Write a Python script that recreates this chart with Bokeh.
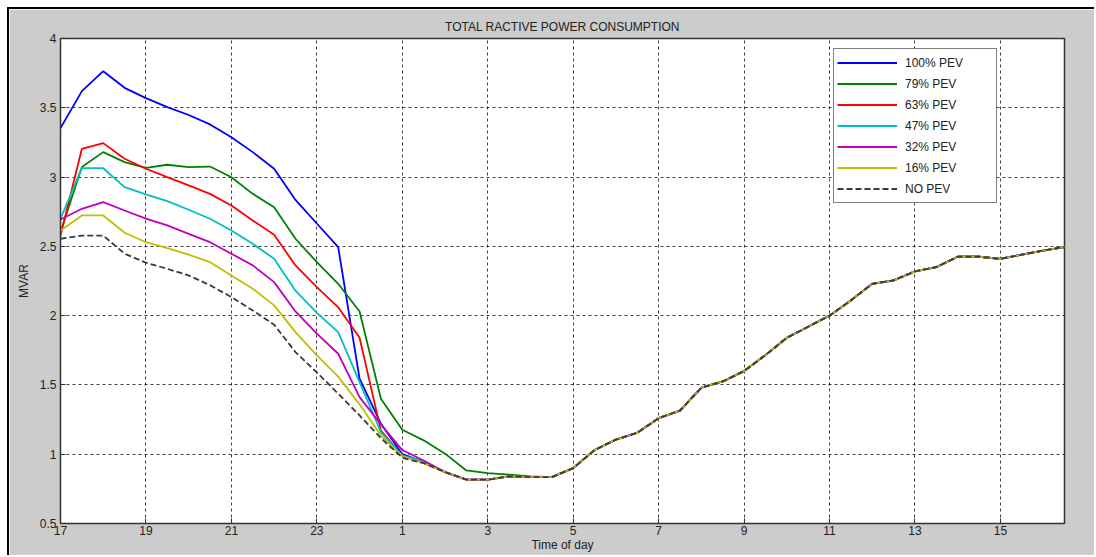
from bokeh.plotting import figure
from bokeh.models import Range1d, FixedTicker, Legend, LegendItem
from bokeh.embed import file_html
from bokeh.resources import INLINE

# time of day in hours, 17:00 on day 1 through 16:30 on day 2 (24 = midnight)
hours = [17.0, 17.5, 18.0, 18.5, 19.0, 19.5, 20.0, 20.5, 21.0, 21.5, 22.0, 22.5,
         23.0, 23.5, 24.0, 24.5, 25.0, 25.5, 26.0, 26.5, 27.0, 27.5, 28.0, 28.5,
         29.0, 29.5, 30.0, 30.5, 31.0, 31.5, 32.0, 32.5, 33.0, 33.5, 34.0, 34.5,
         35.0, 35.5, 36.0, 36.5, 37.0, 37.5, 38.0, 38.5, 39.0, 39.5, 40.0, 40.5]

pev_100 = [3.353, 3.62, 3.764, 3.644, 3.57, 3.505, 3.448, 3.38, 3.288, 3.18, 3.06, 2.835,
           2.665, 2.494, 1.545, 1.22, 1.0, 0.945, 0.871, 0.816, 0.816, 0.84, 0.835, 0.835,
           0.9, 1.03, 1.105, 1.155, 1.26, 1.315, 1.48, 1.525, 1.6, 1.715, 1.84, 1.92,
           2.0, 2.11, 2.23, 2.255, 2.32, 2.35, 2.425, 2.425, 2.41, 2.44, 2.47, 2.495]
pev_79 = [2.602, 3.072, 3.18, 3.108, 3.067, 3.089, 3.072, 3.076, 2.999, 2.879, 2.783, 2.555,
          2.386, 2.23, 2.03, 1.40, 1.177, 1.10, 1.004, 0.883, 0.864, 0.852, 0.84, 0.835,
          0.9, 1.03, 1.105, 1.155, 1.26, 1.315, 1.48, 1.525, 1.6, 1.715, 1.84, 1.92,
          2.0, 2.11, 2.23, 2.255, 2.32, 2.35, 2.425, 2.425, 2.41, 2.44, 2.47, 2.495]
pev_63 = [2.578, 3.204, 3.245, 3.132, 3.06, 2.999, 2.94, 2.879, 2.795, 2.687, 2.584, 2.362,
          2.206, 2.06, 1.84, 1.17, 0.99, 0.945, 0.871, 0.816, 0.816, 0.84, 0.835, 0.835,
          0.9, 1.03, 1.105, 1.155, 1.26, 1.315, 1.48, 1.525, 1.6, 1.715, 1.84, 1.92,
          2.0, 2.11, 2.23, 2.255, 2.32, 2.35, 2.425, 2.425, 2.41, 2.44, 2.47, 2.495]
pev_47 = [2.699, 3.064, 3.064, 2.927, 2.875, 2.826, 2.764, 2.699, 2.615, 2.519, 2.41, 2.18,
          2.02, 1.881, 1.52, 1.16, 0.99, 0.95, 0.871, 0.816, 0.816, 0.84, 0.835, 0.835,
          0.9, 1.03, 1.105, 1.155, 1.26, 1.315, 1.48, 1.525, 1.6, 1.715, 1.84, 1.92,
          2.0, 2.11, 2.23, 2.255, 2.32, 2.35, 2.425, 2.425, 2.41, 2.44, 2.47, 2.495]
pev_32 = [2.694, 2.771, 2.819, 2.759, 2.70, 2.651, 2.59, 2.53, 2.447, 2.363, 2.242, 2.03,
          1.87, 1.725, 1.412, 1.215, 1.03, 0.955, 0.871, 0.816, 0.816, 0.84, 0.835, 0.835,
          0.9, 1.03, 1.105, 1.155, 1.26, 1.315, 1.48, 1.525, 1.6, 1.715, 1.84, 1.92,
          2.0, 2.11, 2.23, 2.255, 2.32, 2.35, 2.425, 2.425, 2.41, 2.44, 2.47, 2.495]
pev_16 = [2.615, 2.723, 2.723, 2.598, 2.53, 2.487, 2.44, 2.386, 2.29, 2.194, 2.074, 1.881,
          1.713, 1.56, 1.36, 1.136, 0.985, 0.935, 0.871, 0.816, 0.816, 0.84, 0.835, 0.835,
          0.9, 1.03, 1.105, 1.155, 1.26, 1.315, 1.48, 1.525, 1.6, 1.715, 1.84, 1.92,
          2.0, 2.11, 2.23, 2.255, 2.32, 2.35, 2.425, 2.425, 2.41, 2.44, 2.47, 2.495]
no_pev = [2.555, 2.578, 2.578, 2.447, 2.382, 2.338, 2.29, 2.22, 2.134, 2.037, 1.935, 1.737,
          1.59, 1.437, 1.28, 1.116, 0.975, 0.935, 0.871, 0.816, 0.816, 0.84, 0.835, 0.835,
          0.9, 1.03, 1.105, 1.155, 1.26, 1.315, 1.48, 1.525, 1.6, 1.715, 1.84, 1.92,
          2.0, 2.11, 2.23, 2.255, 2.32, 2.35, 2.425, 2.425, 2.41, 2.44, 2.47, 2.495]

series_names = ["100% PEV", "79% PEV", "63% PEV", "47% PEV", "32% PEV", "16% PEV", "NO PEV"]
series_colors = ["#0000ff", "#008000", "#ff0000", "#00bfbf", "#bf00bf", "#bfbf00", "#3a3a3a"]
series_values = [pev_100, pev_79, pev_63, pev_47, pev_32, pev_16, no_pev]

x_ticks = [17, 19, 21, 23, 25, 27, 29, 31, 33, 35, 37, 39]
x_tick_labels = ["17", "19", "21", "23", "1", "3", "5", "7", "9", "11", "13", "15"]
y_ticks = [0.5, 1.0, 1.5, 2.0, 2.5, 3.0, 3.5, 4.0]
y_tick_labels = ["0.5", "1", "1.5", "2", "2.5", "3", "3.5", "4"]

FONT = "Liberation Sans"

p = figure(width=1087, height=548, output_backend="svg", toolbar_location=None,
           x_range=Range1d(17, 40.5), y_range=Range1d(0.5, 4.0),
           min_border_left=51, min_border_right=32, min_border_top=29, min_border_bottom=34,
           styles={"margin-left": "7px", "margin-top": "7px",
                   "border-left": "2px solid black", "border-top": "2px solid black"})

p.border_fill_color = "#cccccc"
p.background_fill_color = "white"
p.outline_line_color = "#333333"
p.outline_line_width = 1.5

p.title.text = "TOTAL RACTIVE POWER CONSUMPTION"
p.title.align = "center"
p.title.text_font = FONT
p.title.text_font_size = "12px"
p.title.text_font_style = "normal"
p.title.text_color = "#222222"

for ax in (p.xaxis[0], p.yaxis[0]):
    ax.axis_line_color = "#333333"
    ax.major_tick_line_color = "#333333"
    ax.major_tick_in = 5
    ax.major_tick_out = 0
    ax.minor_tick_line_color = None
    ax.major_label_text_font = FONT
    ax.major_label_text_font_size = "12px"
    ax.major_label_text_color = "#222222"
    ax.axis_label_text_font = FONT
    ax.axis_label_text_font_size = "12px"
    ax.axis_label_text_font_style = "normal"
    ax.axis_label_text_color = "#222222"

p.xaxis.ticker = FixedTicker(ticks=x_ticks)
p.xaxis.major_label_overrides = {t: l for t, l in zip(x_ticks, x_tick_labels)}
p.xaxis.axis_label = "Time of day"
p.xaxis.major_label_standoff = 2
p.xaxis.axis_label_standoff = 0

p.yaxis.ticker = FixedTicker(ticks=y_ticks)
p.yaxis.major_label_overrides = {t: l for t, l in zip(y_ticks, y_tick_labels)}
p.yaxis.axis_label = "MVAR"
p.yaxis.major_label_standoff = 4
p.yaxis.axis_label_standoff = 6

p.xgrid.ticker = FixedTicker(ticks=x_ticks)
p.ygrid.ticker = FixedTicker(ticks=y_ticks)
for g in (p.xgrid[0], p.ygrid[0]):
    g.grid_line_color = "black"
    g.grid_line_alpha = 0.75
    g.grid_line_dash = "3 3"
    g.grid_line_width = 1

items = []
for name, color, vals in zip(series_names, series_colors, series_values):
    if name == "NO PEV":
        r = p.line(hours, vals, line_color=color, line_width=1.8, line_dash="6 3")
    else:
        r = p.line(hours, vals, line_color=color, line_width=1.8)
    items.append(LegendItem(label=name, renderers=[r]))

legend = Legend(items=items, location=(773, 320))
legend.label_text_font = FONT
legend.label_text_font_size = "12px"
legend.label_text_color = "#222222"
legend.glyph_width = 60
legend.glyph_height = 21
legend.label_height = 21
legend.label_width = 88
legend.label_standoff = 8
legend.spacing = 0
legend.padding = 3
legend.margin = 0
legend.border_line_color = "black"
legend.border_line_width = 1
legend.background_fill_color = "white"
legend.background_fill_alpha = 1.0
p.add_layout(legend)

open("out.html", "w").write(file_html(p, INLINE))
